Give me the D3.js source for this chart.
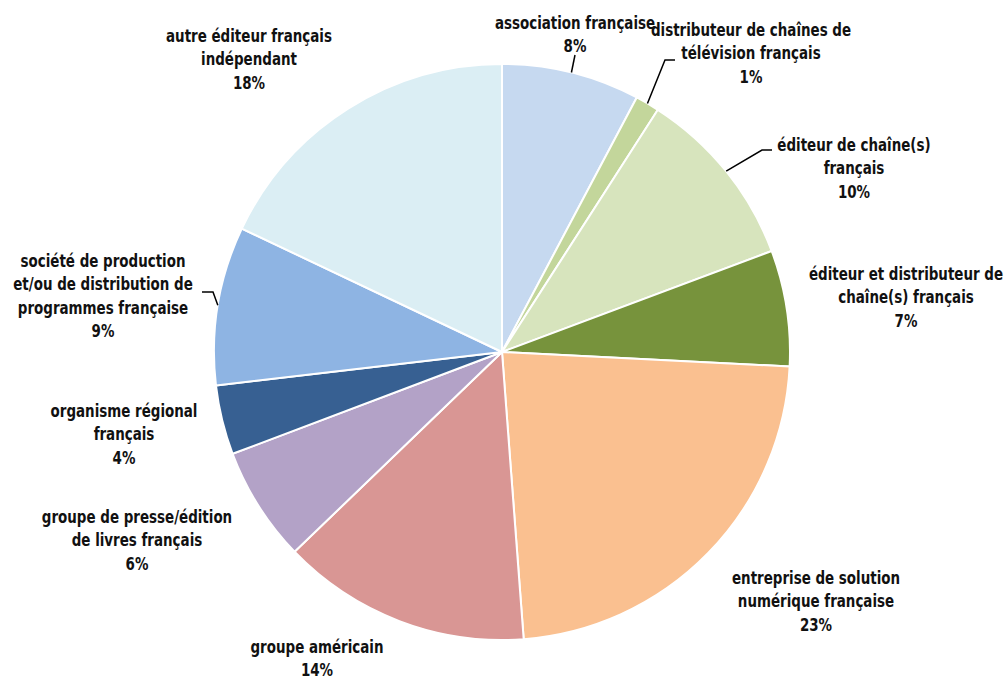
<!DOCTYPE html>
<html>
<head>
<meta charset="utf-8">
<script src="https://cdn.jsdelivr.net/npm/d3@7"></script>
<style>
  html, body { margin: 0; padding: 0; background: #ffffff; }
  svg { display: block; }
  .lbl { font-family: "DejaVu Sans Condensed", "DejaVu Sans", sans-serif; font-weight: bold; font-size: 18px; fill: #111; }
</style>
</head>
<body>
<svg id="chart" width="1006" height="681"></svg>
<script>
// Répartition des services par type d'éditeur (parts en %)
const categories = [
  "association française",
  "distributeur de chaînes de télévision français",
  "éditeur de chaîne(s) français",
  "éditeur et distributeur de chaîne(s) français",
  "entreprise de solution numérique française",
  "groupe américain",
  "groupe de presse/édition de livres français",
  "organisme régional français",
  "société de production et/ou de distribution de programmes française",
  "autre éditeur français indépendant"
];
const shares = [7.75, 1.35, 10.2, 6.5, 23.0, 14.0, 6.45, 3.9, 8.9, 17.95];
const colors = ["#C6D9F0", "#C3D69B", "#D7E4BD", "#77933C", "#FAC090",
                "#D99694", "#B3A2C7", "#376092", "#8EB4E3", "#DBEEF4"];
// Label text broken into lines as displayed
const labelLines = [
  ["association française"],
  ["distributeur de chaînes de", "télévision français"],
  ["éditeur de chaîne(s)", "français"],
  ["éditeur et distributeur de", "chaîne(s) français"],
  ["entreprise de solution", "numérique française"],
  ["groupe américain"],
  ["groupe de presse/édition", "de livres français"],
  ["organisme régional", "français"],
  ["société de production", "et/ou de distribution de", "programmes française"],
  ["autre éditeur français", "indépendant"]
];

const width = 1006, height = 681;
const cx = 502, cy = 352, radius = 288;
const lineH = 23.5;
const squeeze = 0.83; // horizontal condensing of label glyphs

// Label block placement: centre x and baseline of first line
const labelLayout = [
  { x: 575, y: 29 },
  { x: 751, y: 36 },
  { x: 854, y: 151 },
  { x: 906, y: 280 },
  { x: 816, y: 584 },
  { x: 317, y: 653 },
  { x: 137, y: 523 },
  { x: 124, y: 417 },
  { x: 103, y: 267 },
  { x: 249, y: 42 }
];
// Leader lines: elbow point and end point (null = no leader)
const leaders = [
  [[575, 55], [575, 55]],
  [[665, 60], [675, 60]],
  [[762, 150], [772, 150]],
  null, null, null, null, null,
  [[213, 292], [202, 292]],
  null
];

const svg = d3.select("#chart");
const g = svg.append("g").attr("transform", `translate(${cx},${cy})`);

const pie = d3.pie().sort(null).value(d => d)(shares);
const arc = d3.arc().innerRadius(0).outerRadius(radius);

g.selectAll("path.slice")
  .data(pie)
  .join("path")
  .attr("class", "slice")
  .attr("d", arc)
  .attr("fill", (d, i) => colors[i])
  .attr("stroke", "#ffffff")
  .attr("stroke-width", 2)
  .attr("stroke-linejoin", "round");

// Leader lines start on the rim at each slice's mid angle
pie.forEach((d, i) => {
  const ld = leaders[i];
  if (!ld) return;
  const a = (d.startAngle + d.endAngle) / 2;
  const sx = cx + radius * Math.sin(a), sy = cy - radius * Math.cos(a);
  svg.append("polyline")
    .attr("points", [[sx, sy], ld[0], ld[1]].map(p => p.join(",")).join(" "))
    .attr("fill", "none")
    .attr("stroke", "#000")
    .attr("stroke-width", 1.5);
});

// Category labels with rounded percentage
pie.forEach((d, i) => {
  const pos = labelLayout[i];
  const lines = labelLines[i].concat([Math.round(d.value) + "%"]);
  const t = svg.append("text")
    .attr("class", "lbl")
    .attr("text-anchor", "middle")
    .attr("transform", `translate(${pos.x},${pos.y}) scale(${squeeze},1)`);
  lines.forEach((ln, k) => {
    t.append("tspan")
      .attr("x", 0)
      .attr("dy", k === 0 ? 0 : lineH)
      .text(ln);
  });
});
</script>
</body>
</html>
